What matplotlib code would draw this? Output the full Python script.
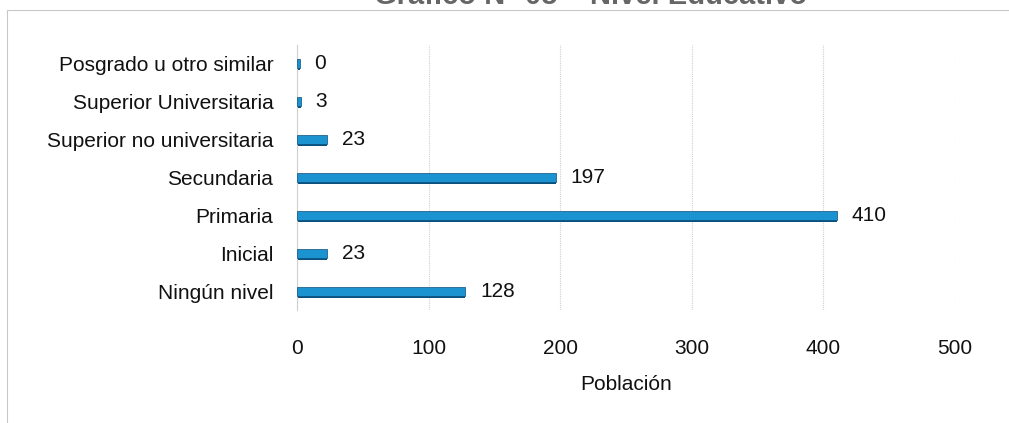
import matplotlib.pyplot as plt
from matplotlib.patches import Rectangle

plt.rcParams["font.family"] = ["Liberation Sans", "DejaVu Sans"]

CATEGORIES = [
    "Ningún nivel",
    "Inicial",
    "Primaria",
    "Secundaria",
    "Superior no universitaria",
    "Superior Universitaria",
    "Posgrado u otro similar",
]
POBLACION = [128, 23, 410, 197, 23, 3, 0]
X_TICKS = [0, 100, 200, 300, 400, 500]

BAR_COLOR = "#1b93d0"
EDGE_COLOR = "#0b4f7c"

fig = plt.figure(figsize=(10.09, 4.23), dpi=100)
ax = fig.add_axes([297 / 1009, 1 - 310 / 423, (955 - 297) / 1009, 265 / 423])

# outer frame of the chart area (partly cut off)
fig.patches.append(Rectangle((7 / 1009, -0.1), 1.2, 1.1 - 10 / 423,
                             transform=fig.transFigure, fill=False,
                             edgecolor="#c8c8c8", linewidth=0.8))

fig.text(0.585, 1 - 4 / 423, "Gráfico N° 05 – Nivel Educativo",
         ha="center", va="baseline", fontsize=21, fontweight="bold",
         color="#666666")

ypos = range(len(CATEGORIES))
widths = [max(v, 2) for v in POBLACION]
# small offset shadow gives the bars their slight 3D look
ax.barh([y - 0.04 for y in ypos], widths, height=0.26,
        color=EDGE_COLOR, zorder=2)
ax.barh(ypos, widths, height=0.24,
        color=BAR_COLOR, edgecolor=EDGE_COLOR, linewidth=0.5, zorder=3)

for y, v, w in zip(ypos, POBLACION, widths):
    ax.text(w + 11, y, str(v), va="center", ha="left",
            fontsize=15, color="#111111")

ax.set_xlim(0, 500)
ax.set_ylim(-0.5, len(CATEGORIES) - 0.5)
ax.set_xticks(X_TICKS)
ax.set_yticks(list(ypos))
ax.set_yticklabels(CATEGORIES)
ax.tick_params(axis="both", length=0, labelsize=15, labelcolor="#111111")
ax.tick_params(axis="x", pad=21)
ax.tick_params(axis="y", pad=17)

ax.xaxis.grid(True, color="#cfcfcf", linestyle=(0, (1, 1)), linewidth=0.8)
ax.set_axisbelow(True)
for side in ["top", "right", "bottom"]:
    ax.spines[side].set_visible(False)
ax.spines["left"].set_color("#d0d0d0")
ax.spines["left"].set_linewidth(0.8)

ax.set_xlabel("Población", fontsize=15, color="#111111", labelpad=12)

fig.savefig("out.png", dpi=100)
